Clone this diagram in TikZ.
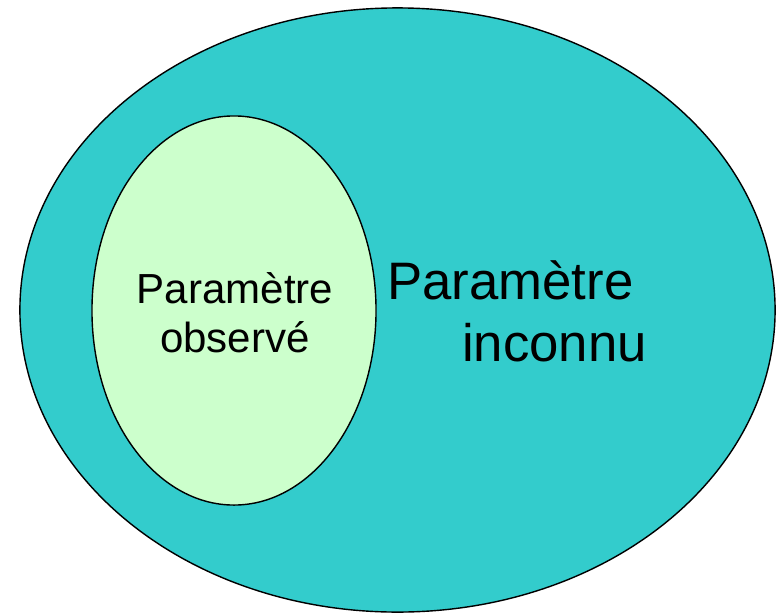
\documentclass[tikz,border=0pt]{standalone}
\usepackage{fontspec}
\setmainfont{Liberation Sans}
\usepackage{xcolor}
\usepackage{tikz}
\usetikzlibrary{shapes.geometric,positioning}
\definecolor{outerTeal}{RGB}{51,204,204}
\definecolor{innerGreen}{RGB}{204,255,204}
\tikzset{
  setbox/.style={
    ellipse, draw=black, line width=1pt, inner sep=0pt
  },
  bigLbl/.style={font=\fontsize{37.5}{43}\selectfont, anchor=base west, inner sep=0pt},
  smallLbl/.style={font=\fontsize{29.9}{34.5}\selectfont, align=center, inner sep=0pt}
}
\begin{document}
\begin{tikzpicture}[x=0.025cm, y=-0.025cm]
    \useasboundingbox (0,0) rectangle (783,613);
    % ensemble des parametres
    \node[setbox, fill=outerTeal, minimum width=18.875cm,
          minimum height=15.1cm] (univers) at (397.5,310) {};
    \node[setbox, fill=innerGreen, minimum width=7.1cm,
          minimum height=9.725cm] (observe) at (234,310.5) {};
    \node[smallLbl] (obsLbl) at (235,312.5) {Paramètre\\observé};
    \node[bigLbl] (incA) at (387,299) {Paramètre};
    \node[bigLbl] (incB) at (462,361) {inconnu};
\end{tikzpicture}
\end{document}
